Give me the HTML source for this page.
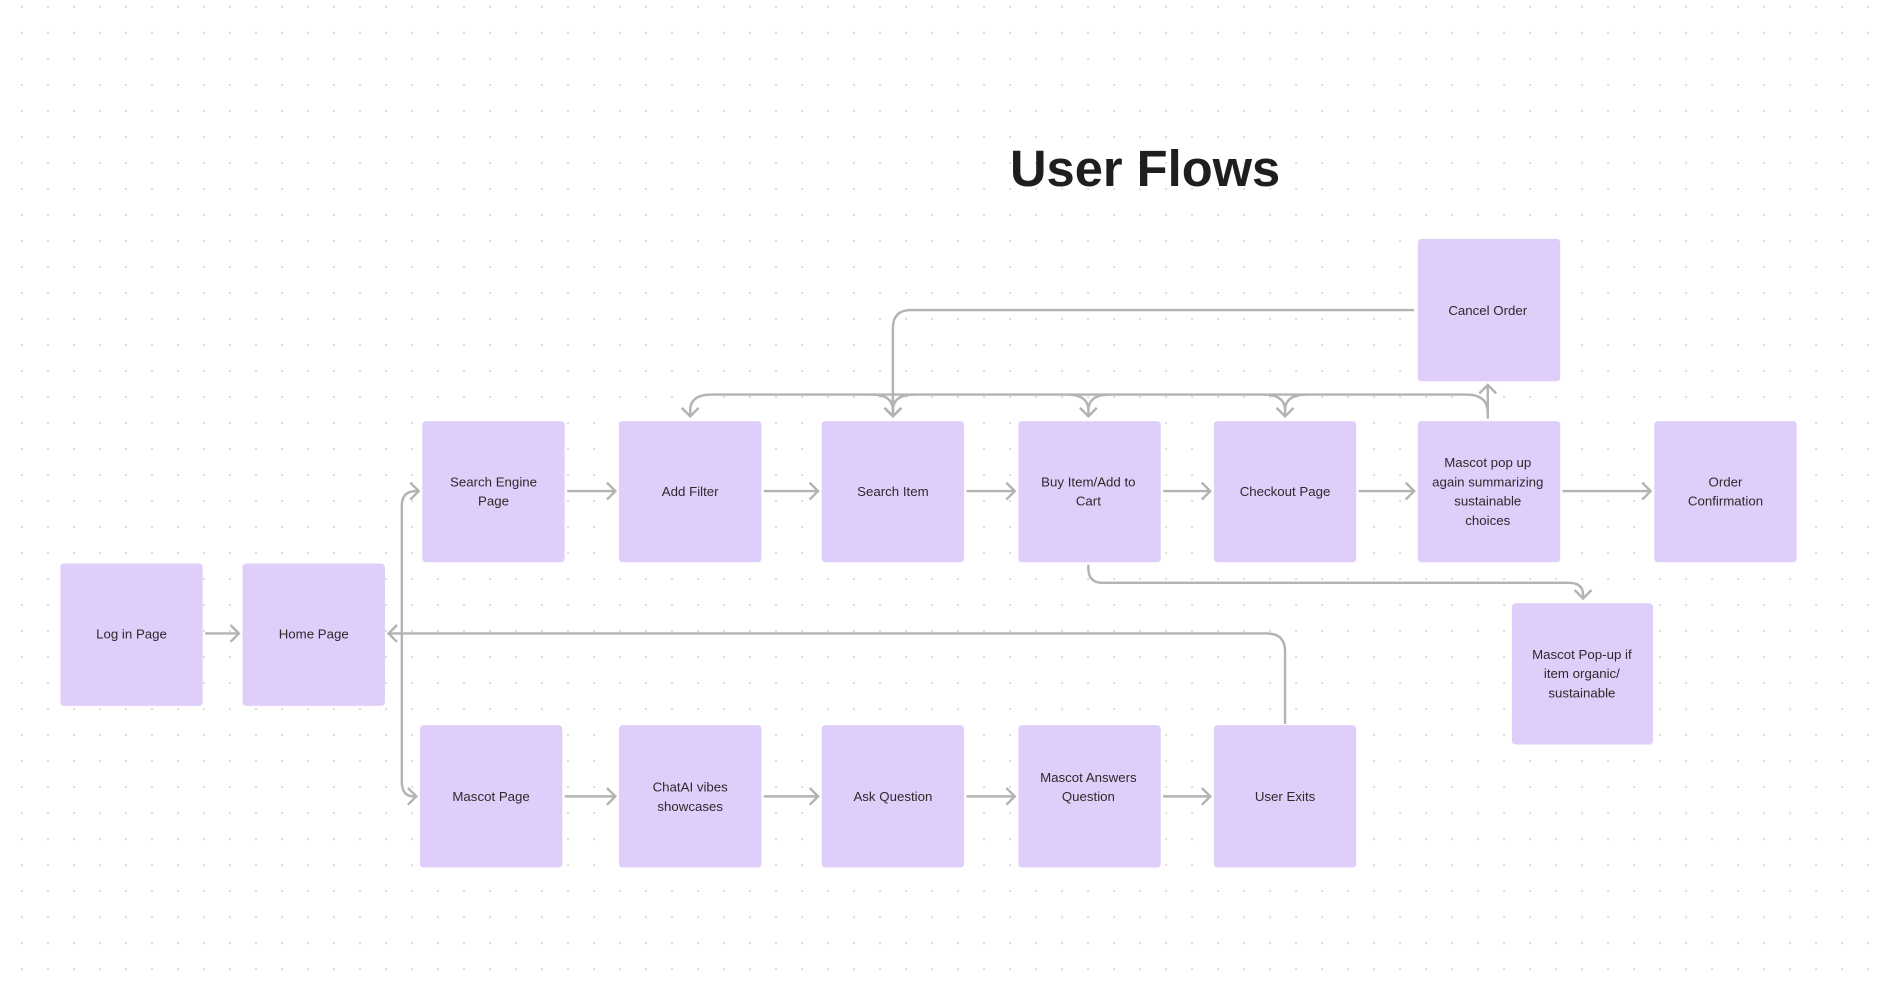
<!DOCTYPE html>
<html><head><meta charset="utf-8"><style>
html,body{margin:0;padding:0;background:#fff;}
svg{display:block;}
text{font-family:"Liberation Sans",sans-serif;fill:#2b2b2b;}
</style></head><body>
<svg width="1892" height="984" viewBox="0 0 1568 815.5" xmlns="http://www.w3.org/2000/svg">
<defs>
<pattern id="dots" x="17.4" y="4.95" width="21.55" height="21.55" patternUnits="userSpaceOnUse">
<circle cx="0.8" cy="0.8" r="0.8" fill="#d0d0d0"/>
</pattern>
<marker id="ar" markerWidth="14" markerHeight="16" refX="10" refY="8" orient="auto" markerUnits="userSpaceOnUse">
<path d="M3,1 L10,8 L3,15" fill="none" stroke="#b3b3b3" stroke-width="2"/>
</marker>
</defs>
<rect width="1568" height="815.5" fill="#fff"/>
<rect width="1568" height="815.5" fill="url(#dots)"/>
<text x="949" y="154" font-size="42" font-weight="bold" text-anchor="middle" style="fill:#1e1e1e">User Flows</text>

<g fill="none" stroke="#b3b3b3" stroke-width="2">
<path d="M170,525 H198" marker-end="url(#ar)"/>
<path d="M470,407 H510" marker-end="url(#ar)"/>
<path d="M633,407 H678" marker-end="url(#ar)"/>
<path d="M801,407 H841" marker-end="url(#ar)"/>
<path d="M964,407 H1003" marker-end="url(#ar)"/>
<path d="M1126,407 H1172" marker-end="url(#ar)"/>
<path d="M1295,407 H1368" marker-end="url(#ar)"/>
<path d="M468,660 H510" marker-end="url(#ar)"/>
<path d="M633,660 H678" marker-end="url(#ar)"/>
<path d="M801,660 H841" marker-end="url(#ar)"/>
<path d="M964,660 H1003" marker-end="url(#ar)"/>
<path d="M333,525 V419 Q333,407 345,407 H347" marker-end="url(#ar)"/>
<path d="M333,525 V648 Q333,660 343,660 H345" marker-end="url(#ar)"/>
<path d="M1065,600 V540 Q1065,525 1050,525 H322" marker-end="url(#ar)"/>
<path d="M590,327 H1215"/>
<path d="M590,327 Q572,327 572,340 V345" marker-end="url(#ar)"/>
<path d="M722,327 Q740,327 740,340 V345" marker-end="url(#ar)"/>
<path d="M758,327 Q740,327 740,340"/>
<path d="M884,327 Q902,327 902,340 V345" marker-end="url(#ar)"/>
<path d="M920,327 Q902,327 902,340"/>
<path d="M1047,327 Q1065,327 1065,340 V345" marker-end="url(#ar)"/>
<path d="M1083,327 Q1065,327 1065,340"/>
<path d="M1215,327 Q1233,327 1233,342"/>
<path d="M1233,347 V319" marker-end="url(#ar)"/>
<path d="M1172,257 H755 Q740,257 740,272 V345" marker-end="url(#ar)"/>
<path d="M902,468 V471 Q902,483 914,483 H1300 Q1312,483 1312,493 V496" marker-end="url(#ar)"/>
</g>

<g fill="#e0cefa">
<rect x="50" y="467" width="118" height="118" rx="3"/>
<rect x="201" y="467" width="118" height="118" rx="3"/>
<rect x="350" y="349" width="118" height="117" rx="3"/>
<rect x="513" y="349" width="118" height="117" rx="3"/>
<rect x="681" y="349" width="118" height="117" rx="3"/>
<rect x="844" y="349" width="118" height="117" rx="3"/>
<rect x="1006" y="349" width="118" height="117" rx="3"/>
<rect x="1175" y="349" width="118" height="117" rx="3"/>
<rect x="1371" y="349" width="118" height="117" rx="3"/>
<rect x="1175" y="198" width="118" height="118" rx="3"/>
<rect x="1253" y="500" width="117" height="117" rx="3"/>
<rect x="348" y="601" width="118" height="118" rx="3"/>
<rect x="513" y="601" width="118" height="118" rx="3"/>
<rect x="681" y="601" width="118" height="118" rx="3"/>
<rect x="844" y="601" width="118" height="118" rx="3"/>
<rect x="1006" y="601" width="118" height="118" rx="3"/>
</g>

<g font-size="11" text-anchor="middle">
<text x="109" y="529">Log in Page</text>
<text x="260" y="529">Home Page</text>
<text x="409" y="403">Search Engine</text><text x="409" y="419">Page</text>
<text x="572" y="411">Add Filter</text>
<text x="740" y="411">Search Item</text>
<text x="902" y="403">Buy Item/Add to</text><text x="902" y="419">Cart</text>
<text x="1065" y="411">Checkout Page</text>
<text x="1233" y="387">Mascot pop up</text><text x="1233" y="403">again summarizing</text><text x="1233" y="419">sustainable</text><text x="1233" y="435">choices</text>
<text x="1430" y="403">Order</text><text x="1430" y="419">Confirmation</text>
<text x="1233" y="261">Cancel Order</text>
<text x="1311" y="546">Mascot Pop-up if</text><text x="1311" y="562">item organic/</text><text x="1311" y="578">sustainable</text>
<text x="407" y="664">Mascot Page</text>
<text x="572" y="656">ChatAI vibes</text><text x="572" y="672">showcases</text>
<text x="740" y="664">Ask Question</text>
<text x="902" y="648">Mascot Answers</text><text x="902" y="664">Question</text>
<text x="1065" y="664">User Exits</text>
</g>
</svg>
</body></html>
